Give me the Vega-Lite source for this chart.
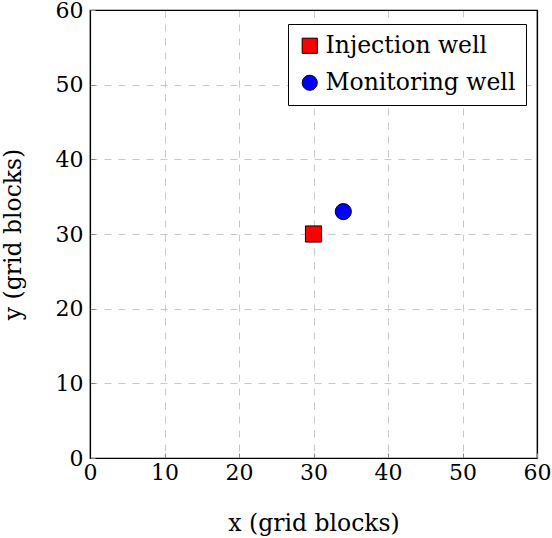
{
  "$schema": "https://vega.github.io/schema/vega-lite/v6.json",
  "autosize": "none",
  "padding": {"left": 90, "top": 10, "right": 15, "bottom": 80},
  "width": 447,
  "height": 448,
  "background": "white",
  "config": {
    "font": "DejaVu Serif",
    "view": {"stroke": "black", "strokeWidth": 1.2},
    "axis": {
      "labelFont": "DejaVu Serif",
      "titleFont": "DejaVu Serif",
      "labelFontSize": 22,
      "titleFontSize": 23.5,
      "titleFontWeight": "normal",
      "labelColor": "black",
      "titleColor": "black",
      "domainColor": "black",
      "domainWidth": 1.2,
      "labelFlush": false,
      "labelOverlap": false,
      "grid": true,
      "gridColor": {"condition": {"test": "datum.value == 60", "value": "black"}, "value": "#c8c8c8"},
      "gridDash": {"condition": {"test": "datum.value == 60", "value": []}, "value": [7, 7]},
      "gridWidth": {"condition": {"test": "datum.value == 60", "value": 1.2}, "value": 1},
      "tickColor": "#888888",
      "tickSize": -5
    }
  },
  "data": {
    "values": [
      {"x": 30, "y": 30, "well": "Injection well"},
      {"x": 34, "y": 33, "well": "Monitoring well"}
    ]
  },
  "mark": {"type": "point", "filled": true, "stroke": "black", "strokeWidth": 1, "opacity": 1},
  "encoding": {
    "x": {
      "field": "x",
      "type": "quantitative",
      "scale": {"domain": [0, 60], "nice": false},
      "axis": {"values": [0, 10, 20, 30, 40, 50, 60], "title": "x (grid blocks)", "labelPadding": 9, "titlePadding": 28}
    },
    "y": {
      "field": "y",
      "type": "quantitative",
      "scale": {"domain": [0, 60], "nice": false},
      "axis": {"values": [0, 10, 20, 30, 40, 50, 60], "title": "y (grid blocks)", "labelPadding": 12, "titlePadding": 30}
    },
    "color": {
      "field": "well",
      "type": "nominal",
      "scale": {"domain": ["Injection well", "Monitoring well"], "range": ["#ff0000", "#0000ff"]},
      "legend": {
        "title": null,
        "orient": "none",
        "legendX": 198,
        "legendY": 14,
        "labelFont": "DejaVu Serif",
        "labelFontSize": 23.5,
        "labelColor": "black",
        "labelLimit": 400,
        "symbolSize": 230,
        "symbolStrokeColor": "black",
        "symbolStrokeWidth": 1,
        "symbolOpacity": 1,
        "labelOffset": 4,
        "rowPadding": 12,
        "padding": 10,
        "strokeColor": "black",
        "fillColor": "white",
        "cornerRadius": 0
      }
    },
    "shape": {
      "field": "well",
      "type": "nominal",
      "scale": {"domain": ["Injection well", "Monitoring well"], "range": ["square", "circle"]},
      "legend": null
    },
    "size": {"value": 260}
  }
}
